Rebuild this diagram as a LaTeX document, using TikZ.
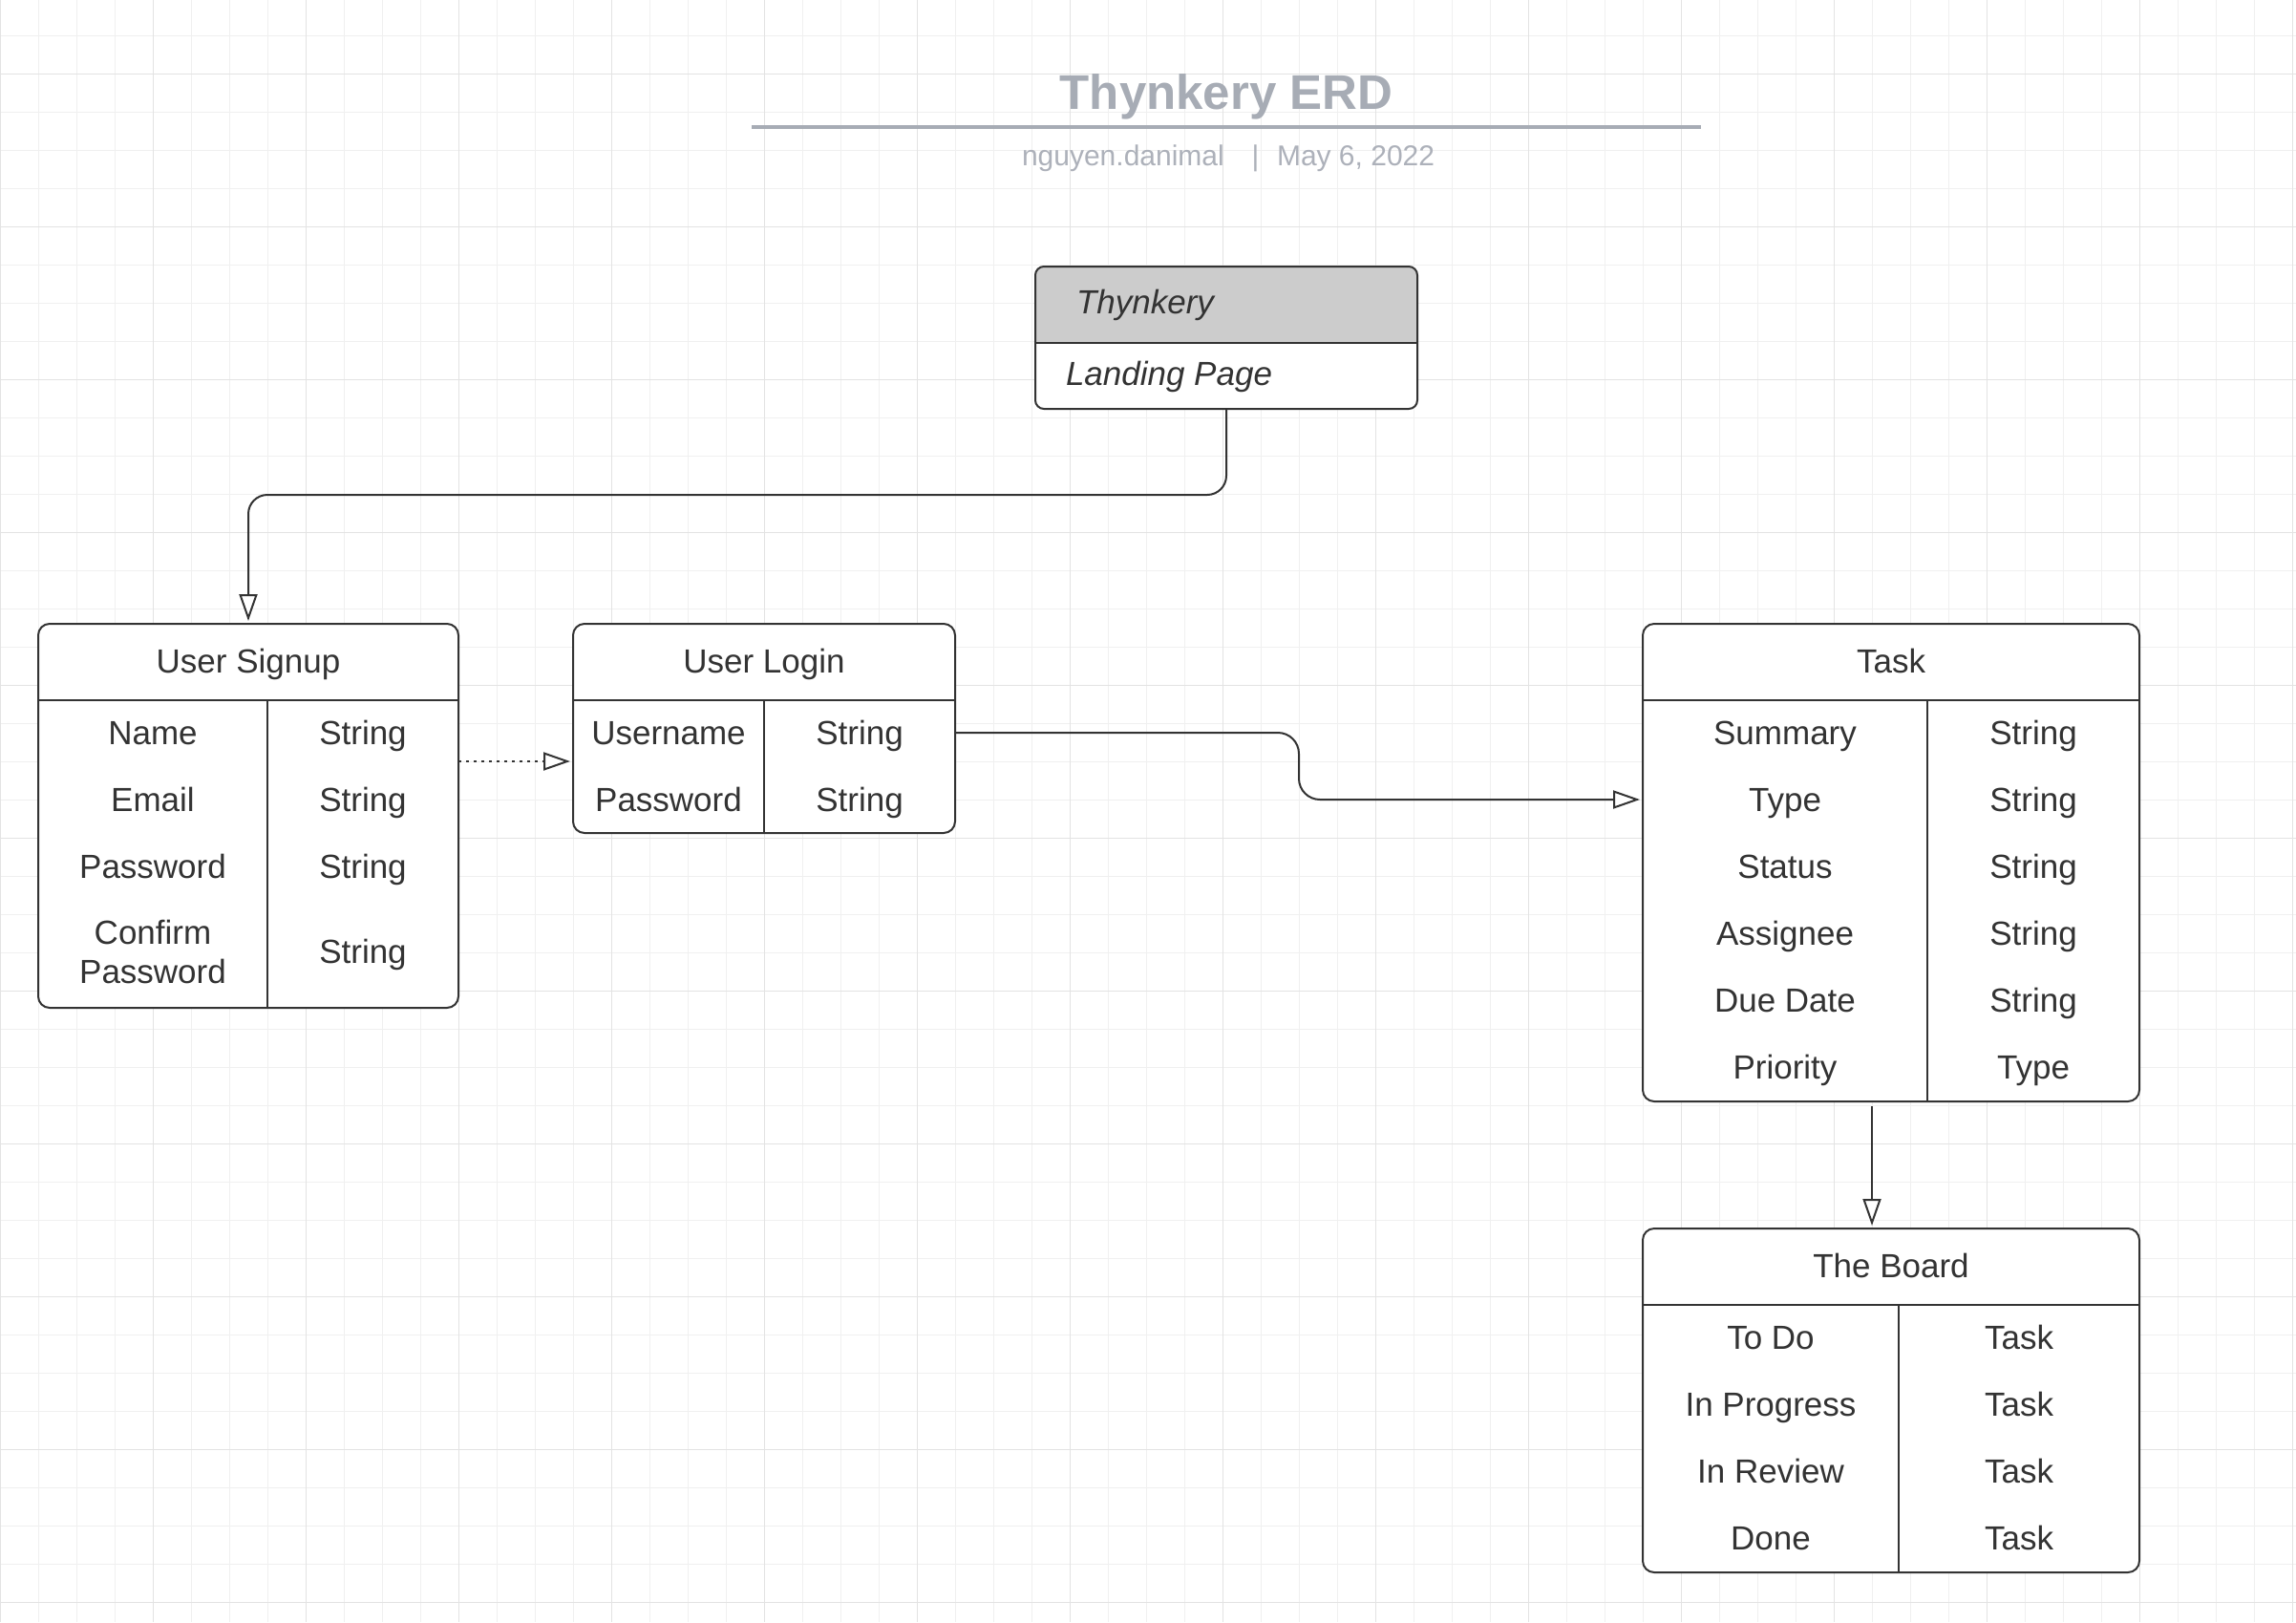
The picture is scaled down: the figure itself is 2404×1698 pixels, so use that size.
\documentclass[tikz,border=0pt]{standalone}
\usepackage{fontspec}
\setmainfont{Liberation Sans}
\usetikzlibrary{arrows.meta}
\definecolor{ink}{HTML}{333333}
\definecolor{gridminor}{HTML}{F0F0F0}
\definecolor{gridmajor}{HTML}{E3E3E3}
\definecolor{titlegray}{HTML}{A7ACB5}
\definecolor{subgray}{HTML}{ADB1BA}
\definecolor{hdrfill}{HTML}{CCCCCC}
\begin{document}
\begin{tikzpicture}[x=1pt,y=-1pt,
  every node/.style={inner sep=0pt, outer sep=0pt},
  entity/.style={draw=ink, line width=2pt, fill=white, rounded corners=12pt, rectangle},
  divider/.style={draw=ink, line width=2pt},
  cell/.style={anchor=base, text=ink, font=\fontsize{35}{41}\selectfont},
  conn/.style={draw=ink, line width=2pt, -{Triangle[open, length=28pt, width=19pt, fill=white]}, shorten >=3pt},
  minorline/.style={draw=gridminor, line width=1pt},
  majorline/.style={draw=gridmajor, line width=1pt},
]
\useasboundingbox (0,0) rectangle (2404,1698);
\fill[white] (0,0) rectangle (2404,1698);
% grid
\foreach \x in {0,40,...,2400} \draw[minorline] (\x,0) -- (\x,1698);
\foreach \y in {37,77,...,1677} \draw[minorline] (0,\y) -- (2404,\y);
\foreach \x in {0,160,...,2400} \draw[majorline] (\x,0) -- (\x,1698);
\foreach \y in {77,237,...,1677} \draw[majorline] (0,\y) -- (2404,\y);

% title block
\node[anchor=base, text=titlegray, font=\fontsize{51}{60}\selectfont\bfseries] (title) at (1284,114) {Thynkery ERD};
\draw[titlegray, line width=3.3pt] (787,133) -- (1781,133);
\node[anchor=base west, text=subgray, font=\fontsize{30}{36}\selectfont] (author) at (1070,173) {nguyen.danimal};
\node[anchor=base, text=subgray, font=\fontsize{30}{36}\selectfont] (sep) at (1314.5,173) {|};
\node[anchor=base west, text=subgray, font=\fontsize{30}{36}\selectfont] (date) at (1337,173) {May 6, 2022};

% Thynkery landing page box
\node[fill=white, rectangle, minimum width=400pt, minimum height=149pt] (thynkery) at (1284,353.5) {};
\begin{scope}
  \clip[rounded corners=9pt] (1084,279) rectangle (1484,428);
  \fill[hdrfill] (1084,279) rectangle (1484,359);
\end{scope}
\draw[ink, line width=2pt, rounded corners=9pt] (thynkery.north west) rectangle (thynkery.south east);
\draw[divider] (1084,359) -- (1484,359);
\node[anchor=base west, text=ink, font=\fontsize{35}{41}\selectfont\itshape] (thyname) at (1127,328) {Thynkery};
\node[anchor=base west, text=ink, font=\fontsize{35}{41}\selectfont\itshape] (landing) at (1116,403) {Landing Page};

% User Signup
\node[entity, minimum width=440pt, minimum height=402pt] (signup) at (260,854) {};
\draw[divider] (40,733) -- (480,733);
\draw[divider] (280,733) -- (280,1055);
\node[cell] (suh) at (260,704) {User Signup};
\node[cell] (su1) at (160,779) {Name};
\node[cell] (su2) at (160,849) {Email};
\node[cell] (su3) at (160,919) {Password};
\node[cell] (su4a) at (160,988.5) {Confirm};
\node[cell] (su4b) at (160,1029.5) {Password};
\node[cell] (sv1) at (380,779) {String};
\node[cell] (sv2) at (380,849) {String};
\node[cell] (sv3) at (380,919) {String};
\node[cell] (sv4) at (380,1008.5) {String};

% User Login
\node[entity, minimum width=400pt, minimum height=219pt] (login) at (800,762.5) {};
\draw[divider] (600,733) -- (1000,733);
\draw[divider] (800,733) -- (800,872);
\node[cell] (ulh) at (800,704) {User Login};
\node[cell] (ul1) at (700,779) {Username};
\node[cell] (ul2) at (700,849) {Password};
\node[cell] (uv1) at (900,779) {String};
\node[cell] (uv2) at (900,849) {String};

% Task
\node[entity, minimum width=520pt, minimum height=500pt] (task) at (1980,903) {};
\draw[divider] (1720,733) -- (2240,733);
\draw[divider] (2018,733) -- (2018,1153);
\node[cell] (tkh) at (1980,704) {Task};
\node[cell] (tk1) at (1869,779) {Summary};
\node[cell] (tk2) at (1869,849) {Type};
\node[cell] (tk3) at (1869,919) {Status};
\node[cell] (tk4) at (1869,989) {Assignee};
\node[cell] (tk5) at (1869,1059) {Due Date};
\node[cell] (tk6) at (1869,1129) {Priority};
\node[cell] (tv1) at (2129,779) {String};
\node[cell] (tv2) at (2129,849) {String};
\node[cell] (tv3) at (2129,919) {String};
\node[cell] (tv4) at (2129,989) {String};
\node[cell] (tv5) at (2129,1059) {String};
\node[cell] (tv6) at (2129,1129) {Type};

% The Board
\node[entity, minimum width=520pt, minimum height=360pt] (board) at (1980,1466) {};
\draw[divider] (1720,1366) -- (2240,1366);
\draw[divider] (1988,1366) -- (1988,1646);
\node[cell] (bdh) at (1980,1337) {The Board};
\node[cell] (bd1) at (1854,1412) {To Do};
\node[cell] (bd2) at (1854,1482) {In Progress};
\node[cell] (bd3) at (1854,1552) {In Review};
\node[cell] (bd4) at (1854,1622) {Done};
\node[cell] (bv1) at (2114,1412) {Task};
\node[cell] (bv2) at (2114,1482) {Task};
\node[cell] (bv3) at (2114,1552) {Task};
\node[cell] (bv4) at (2114,1622) {Task};

% connectors
\draw[conn, rounded corners=20pt] (thynkery.south) -- ++(0,90) -| (signup.north);
\draw[conn, dash pattern=on 3.3pt off 4.7pt] ([yshift=-144pt]signup.north east) -- ([yshift=-144pt]login.north west);
\draw[conn, rounded corners=22pt] ([yshift=-114pt]login.north east) -- ++(360,0) |- ([yshift=-184pt]task.north west);
\draw[conn] ([xshift=240pt,yshift=-5pt]task.south west) -- ([xshift=240pt]board.north west);
\end{tikzpicture}
\end{document}
